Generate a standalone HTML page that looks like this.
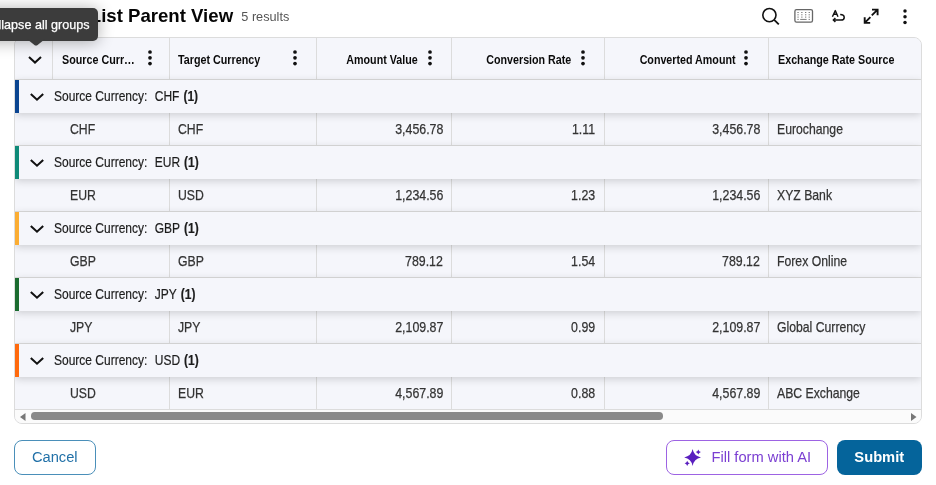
<!DOCTYPE html>
<html><head><meta charset="utf-8"><style>
*{box-sizing:border-box;margin:0;padding:0}
html,body{width:936px;height:485px;overflow:hidden;background:#fff;font-family:"Liberation Sans",Arial,sans-serif;color:#333}
.a{position:absolute}
.title{left:89.8px;top:4.5px;font-size:18.6px;font-weight:700;color:#050505;white-space:nowrap;line-height:22px}
.res{left:241.3px;top:9.2px;font-size:12.7px;color:#555;line-height:16px}
.tbl{left:14px;top:37px;width:908px;height:387px;border:1px solid #dcdcdc;border-radius:8px;overflow:hidden;background:#f5f6fb}
.hdr{left:0;top:0;width:906px;height:42px;background:#f5f6fb;border-bottom:1px solid #dcdcdc}
.vline{position:absolute;top:0;width:1px;background:#dcdcdc}
.ht{position:absolute;top:0.6px;height:41px;line-height:41px;font-size:13px;font-weight:700;color:#0a0a0a;white-space:nowrap}
.c{display:inline-block;transform:scaleX(.826);transform-origin:0 50%}
.cr{display:inline-block;transform:scaleX(.823);transform-origin:100% 50%}
.g{display:inline-block;transform:scaleX(.8);transform-origin:0 50%}
.b{display:inline-block;transform:scaleX(.815);transform-origin:0 50%}
.br{display:inline-block;transform:scaleX(.825);transform-origin:100% 50%}
.keb{position:absolute;width:4px;height:16px}
.keb i{position:absolute;left:0;width:3.6px;height:3.6px;border-radius:50%;background:#111}
.keb i:nth-child(1){top:0}.keb i:nth-child(2){top:5.8px}.keb i:nth-child(3){top:11.6px}
.grp{position:absolute;left:0;width:906px;height:33px;background:#f5f6fb;box-shadow:0 2px 8px rgba(0,0,0,.17);z-index:2}
.grp .bar{position:absolute;left:0;top:0;width:4px;height:33px}
.grp .chev{position:absolute;left:14.4px;top:8px}
.gt{position:absolute;left:39px;top:-1.5px;line-height:33px;font-size:15px;color:#1c1c1c;white-space:nowrap;-webkit-text-stroke:0.2px #1c1c1c}
.row{position:absolute;left:0;width:906px;height:33px;background:#f5f6fb;border-bottom:1px solid #dcdcdc}
.dt{position:absolute;top:0;line-height:32px;font-size:15px;color:#333;white-space:nowrap;-webkit-text-stroke:0.25px #333}
.sb{left:0;top:372px;width:906px;height:13px;background:#fbfbfb}
.thumb{position:absolute;left:16px;top:2.3px;width:632px;height:7.6px;border-radius:3.8px;background:#8a8a8a}
.btn{position:absolute;top:440px;height:34.5px;border-radius:8px;font-size:14.7px;line-height:33px;text-align:center;white-space:nowrap}
.tip{left:-40px;top:8px;width:138px;height:32.5px;background:#3c3c3c;border-radius:5px;color:#fff;font-size:12.6px;line-height:33px;box-shadow:0 1px 16px rgba(0,0,0,.33);z-index:10}
</style></head><body>

<div class="a title">List Parent View</div>
<div class="a res">5 results</div>
<svg class="a" style="left:750px;top:0" width="186" height="32" viewBox="750 0 186 32">
<circle cx="769.4" cy="15.1" r="6.6" fill="none" stroke="#111" stroke-width="1.6"/><path d="M774.2 19.9 L778.8 24.3" stroke="#111" stroke-width="1.8"/>
<rect x="794.9" y="9.7" width="17.6" height="12.4" rx="1.6" fill="none" stroke="#666" stroke-width="1.3"/>
<g fill="#7a7a7a"><rect x="797.4" y="12" width="1.3" height="1"/><rect x="801.2" y="12" width="1.3" height="1"/><rect x="805" y="12" width="1.3" height="1"/><rect x="808.6" y="12" width="1.3" height="1"/>
<rect x="797.4" y="14.3" width="1.3" height="1"/><rect x="801.2" y="14.3" width="1.3" height="1"/><rect x="805" y="14.3" width="1.3" height="1"/><rect x="808.6" y="14.3" width="1.3" height="1"/>
<rect x="797.4" y="16.6" width="1.3" height="1"/><rect x="801.2" y="16.6" width="1.3" height="1"/><rect x="805" y="16.6" width="1.3" height="1"/><rect x="808.6" y="16.6" width="1.3" height="1"/>
<rect x="797.4" y="18.9" width="1.3" height="1"/><rect x="808.6" y="18.9" width="1.3" height="1"/><rect x="800.2" y="18.9" width="6.4" height="1.1" fill="#888"/></g>
<path d="M832.4 16.8 L835.3 10.6 L838 16.8 M833.4 14.3 H837.1" fill="none" stroke="#111" stroke-width="1.4" stroke-linejoin="round"/>
<path d="M840.2 14.6 C843.4 14.6 844.2 16 844.2 17.4 C844.2 19 843 20 841 20 L833.6 20" fill="none" stroke="#111" stroke-width="1.5"/>
<path d="M835.4 18.1 L833.4 20 L835.4 21.9" fill="none" stroke="#111" stroke-width="1.5"/>
<path d="M872 9.6 H877.6 V15.3 M877.6 9.6 L871.8 15.4 M864.7 17.3 V22.9 H870.2 M864.7 22.9 L870.4 17.2" fill="none" stroke="#111" stroke-width="1.9"/>
</svg>
<svg class="a" style="left:902.1px;top:7.7px" width="6" height="18" viewBox="0 0 6 18"><circle cx="3" cy="3" r="1.75" fill="#111"/><circle cx="3" cy="8.7" r="1.75" fill="#111"/><circle cx="3" cy="14.5" r="1.75" fill="#111"/></svg>
<div class="a tbl">
<div class="a hdr">
<div class="vline" style="left:37px;height:41px"></div>
<div class="vline" style="left:154px;height:41px"></div>
<div class="vline" style="left:301px;height:41px"></div>
<div class="vline" style="left:436px;height:41px"></div>
<div class="vline" style="left:589px;height:41px"></div>
<div class="vline" style="left:753px;height:41px"></div>
<div class="a" style="left:12.3px;top:13px"><svg width="16" height="10" viewBox="0 0 16 10"><path d="M2 2 L8 7.6 L14 2" fill="none" stroke="#111" stroke-width="2"/></svg></div>
<div class="ht" style="left:47px"><span class="c">Source Curr…</span></div>
<svg class="a" style="left:132.00px;top:11.10px" width="6" height="18" viewBox="0 0 6 18"><circle cx="3" cy="3" r="1.85" fill="#111"/><circle cx="3" cy="8.8" r="1.85" fill="#111"/><circle cx="3" cy="14.6" r="1.85" fill="#111"/></svg>
<div class="ht" style="left:163px"><span class="c">Target Currency</span></div>
<svg class="a" style="left:276.70px;top:11.10px" width="6" height="18" viewBox="0 0 6 18"><circle cx="3" cy="3" r="1.85" fill="#111"/><circle cx="3" cy="8.8" r="1.85" fill="#111"/><circle cx="3" cy="14.6" r="1.85" fill="#111"/></svg>
<div class="ht" style="right:503.5px"><span class="cr">Amount Value</span></div>
<svg class="a" style="left:411.90px;top:11.10px" width="6" height="18" viewBox="0 0 6 18"><circle cx="3" cy="3" r="1.85" fill="#111"/><circle cx="3" cy="8.8" r="1.85" fill="#111"/><circle cx="3" cy="14.6" r="1.85" fill="#111"/></svg>
<div class="ht" style="right:350px"><span class="cr">Conversion Rate</span></div>
<svg class="a" style="left:564.60px;top:11.10px" width="6" height="18" viewBox="0 0 6 18"><circle cx="3" cy="3" r="1.85" fill="#111"/><circle cx="3" cy="8.8" r="1.85" fill="#111"/><circle cx="3" cy="14.6" r="1.85" fill="#111"/></svg>
<div class="ht" style="right:185px"><span class="cr">Converted Amount</span></div>
<svg class="a" style="left:728.40px;top:11.10px" width="6" height="18" viewBox="0 0 6 18"><circle cx="3" cy="3" r="1.85" fill="#111"/><circle cx="3" cy="8.8" r="1.85" fill="#111"/><circle cx="3" cy="14.6" r="1.85" fill="#111"/></svg>
<div class="ht" style="left:763px"><span class="c">Exchange Rate Source</span></div>
</div>
<div class="grp" style="top:42px"><div class="bar" style="background:#0b4591"></div><div class="chev"><svg width="16" height="10" viewBox="0 0 16 10"><path d="M1.8 1.9 L8 7.7 L14.2 1.9" fill="none" stroke="#111" stroke-width="2"/></svg></div><div class="gt"><span class="g">Source Currency:<span style="margin-left:9.2px">CHF</span><b style="margin-left:5px">(1)</b></span></div></div>
<div class="row" style="top:75px">
<div class="vline" style="left:154px;height:32px"></div>
<div class="vline" style="left:301px;height:32px"></div>
<div class="vline" style="left:436px;height:32px"></div>
<div class="vline" style="left:589px;height:32px"></div>
<div class="vline" style="left:753px;height:32px"></div>
<div class="dt" style="left:54.5px"><span class="b">CHF</span></div>
<div class="dt" style="left:162.5px"><span class="b">CHF</span></div>
<div class="dt" style="right:478px"><span class="br">3,456.78</span></div>
<div class="dt" style="right:326px"><span class="br">1.11</span></div>
<div class="dt" style="right:161px"><span class="br">3,456.78</span></div>
<div class="dt" style="left:762px"><span class="b">Eurochange</span></div>
</div>
<div class="grp" style="top:108px"><div class="bar" style="background:#0e8a78"></div><div class="chev"><svg width="16" height="10" viewBox="0 0 16 10"><path d="M1.8 1.9 L8 7.7 L14.2 1.9" fill="none" stroke="#111" stroke-width="2"/></svg></div><div class="gt"><span class="g">Source Currency:<span style="margin-left:9.2px">EUR</span><b style="margin-left:5px">(1)</b></span></div></div>
<div class="row" style="top:141px">
<div class="vline" style="left:154px;height:32px"></div>
<div class="vline" style="left:301px;height:32px"></div>
<div class="vline" style="left:436px;height:32px"></div>
<div class="vline" style="left:589px;height:32px"></div>
<div class="vline" style="left:753px;height:32px"></div>
<div class="dt" style="left:54.5px"><span class="b">EUR</span></div>
<div class="dt" style="left:162.5px"><span class="b">USD</span></div>
<div class="dt" style="right:478px"><span class="br">1,234.56</span></div>
<div class="dt" style="right:326px"><span class="br">1.23</span></div>
<div class="dt" style="right:161px"><span class="br">1,234.56</span></div>
<div class="dt" style="left:762px"><span class="b">XYZ Bank</span></div>
</div>
<div class="grp" style="top:174px"><div class="bar" style="background:#fbad33"></div><div class="chev"><svg width="16" height="10" viewBox="0 0 16 10"><path d="M1.8 1.9 L8 7.7 L14.2 1.9" fill="none" stroke="#111" stroke-width="2"/></svg></div><div class="gt"><span class="g">Source Currency:<span style="margin-left:9.2px">GBP</span><b style="margin-left:5px">(1)</b></span></div></div>
<div class="row" style="top:207px">
<div class="vline" style="left:154px;height:32px"></div>
<div class="vline" style="left:301px;height:32px"></div>
<div class="vline" style="left:436px;height:32px"></div>
<div class="vline" style="left:589px;height:32px"></div>
<div class="vline" style="left:753px;height:32px"></div>
<div class="dt" style="left:54.5px"><span class="b">GBP</span></div>
<div class="dt" style="left:162.5px"><span class="b">GBP</span></div>
<div class="dt" style="right:478px"><span class="br">789.12</span></div>
<div class="dt" style="right:326px"><span class="br">1.54</span></div>
<div class="dt" style="right:161px"><span class="br">789.12</span></div>
<div class="dt" style="left:762px"><span class="b">Forex Online</span></div>
</div>
<div class="grp" style="top:240px"><div class="bar" style="background:#1a6b2f"></div><div class="chev"><svg width="16" height="10" viewBox="0 0 16 10"><path d="M1.8 1.9 L8 7.7 L14.2 1.9" fill="none" stroke="#111" stroke-width="2"/></svg></div><div class="gt"><span class="g">Source Currency:<span style="margin-left:9.2px">JPY</span><b style="margin-left:5px">(1)</b></span></div></div>
<div class="row" style="top:273px">
<div class="vline" style="left:154px;height:32px"></div>
<div class="vline" style="left:301px;height:32px"></div>
<div class="vline" style="left:436px;height:32px"></div>
<div class="vline" style="left:589px;height:32px"></div>
<div class="vline" style="left:753px;height:32px"></div>
<div class="dt" style="left:54.5px"><span class="b">JPY</span></div>
<div class="dt" style="left:162.5px"><span class="b">JPY</span></div>
<div class="dt" style="right:478px"><span class="br">2,109.87</span></div>
<div class="dt" style="right:326px"><span class="br">0.99</span></div>
<div class="dt" style="right:161px"><span class="br">2,109.87</span></div>
<div class="dt" style="left:762px"><span class="b">Global Currency</span></div>
</div>
<div class="grp" style="top:306px"><div class="bar" style="background:#ff6a0d"></div><div class="chev"><svg width="16" height="10" viewBox="0 0 16 10"><path d="M1.8 1.9 L8 7.7 L14.2 1.9" fill="none" stroke="#111" stroke-width="2"/></svg></div><div class="gt"><span class="g">Source Currency:<span style="margin-left:9.2px">USD</span><b style="margin-left:5px">(1)</b></span></div></div>
<div class="row" style="top:339px">
<div class="vline" style="left:154px;height:32px"></div>
<div class="vline" style="left:301px;height:32px"></div>
<div class="vline" style="left:436px;height:32px"></div>
<div class="vline" style="left:589px;height:32px"></div>
<div class="vline" style="left:753px;height:32px"></div>
<div class="dt" style="left:54.5px"><span class="b">USD</span></div>
<div class="dt" style="left:162.5px"><span class="b">EUR</span></div>
<div class="dt" style="right:478px"><span class="br">4,567.89</span></div>
<div class="dt" style="right:326px"><span class="br">0.88</span></div>
<div class="dt" style="right:161px"><span class="br">4,567.89</span></div>
<div class="dt" style="left:762px"><span class="b">ABC Exchange</span></div>
</div>
<div class="a sb"><svg class="a" style="left:5px;top:3px" width="6" height="8"><path d="M5.5 0 L0 4 L5.5 8Z" fill="#777"/></svg><div class="thumb"></div><svg class="a" style="left:895.5px;top:3px" width="6" height="8"><path d="M0 0 L5.5 4 L0 8Z" fill="#777"/></svg></div>
</div>
<div class="a tip"><span style="position:absolute;right:8.5px;top:0.5px;-webkit-text-stroke:0.25px #fff">Collapse all groups</span></div>
<svg class="a" style="left:27px;top:39px;z-index:11" width="18" height="8" viewBox="0 0 18 8"><path d="M0 0 H18 L10.6 5.9 Q9 7.1 7.4 5.9 Z" fill="#3c3c3c"/></svg>
<div class="btn" style="left:14px;width:81.5px;border:1.6px solid #4a8fb9;color:#2271a8">Cancel</div>
<div class="btn" style="left:666px;width:162px;border:1.5px solid #9d63e3;color:#7b3fd2;text-align:left;padding-left:44.5px">Fill form with AI</div>
<svg class="a" style="left:680px;top:445px" width="26" height="26" viewBox="680 445 26 26"><path d="M692.6 449.1 Q693.9440000000001 456.156 701.0 457.5 Q693.9440000000001 458.844 692.6 465.9 Q691.256 458.844 684.2 457.5 Q691.256 456.156 692.6 449.1Z M698.3 449.4 Q698.8199999999999 451.48 700.9 452 Q698.8199999999999 452.52 698.3 454.6 Q697.78 452.52 695.6999999999999 452 Q697.78 451.48 698.3 449.4Z M687.2 460.7 Q687.72 462.78000000000003 689.8000000000001 463.3 Q687.72 463.82 687.2 465.90000000000003 Q686.6800000000001 463.82 684.6 463.3 Q686.6800000000001 462.78000000000003 687.2 460.7Z" fill="#5a1fbf"/></svg>
<div class="btn" style="left:836.5px;width:85.5px;background:#05649b;color:#fff;font-weight:700;line-height:35px">Submit</div>
</body></html>
